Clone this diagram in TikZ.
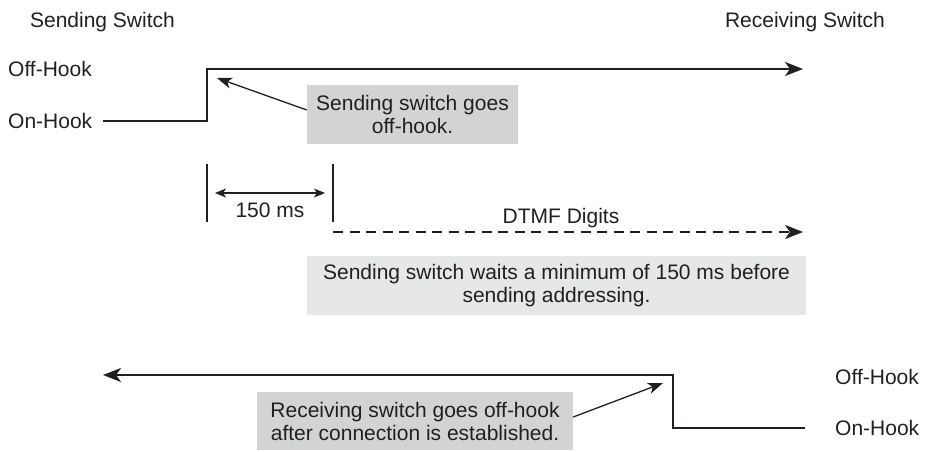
\documentclass[tikz,border=0pt]{standalone}
\usepackage{fontspec}
\setmainfont{Liberation Sans}
\usetikzlibrary{arrows.meta}
\definecolor{ink}{HTML}{231F20}
\definecolor{boxgray}{HTML}{D1D3D4}
\definecolor{lightgray}{HTML}{E6E7E8}
\begin{document}
\begin{tikzpicture}[x=1pt,y=-1pt,
  lbl/.style={inner sep=0pt, font=\fontsize{21}{23}\selectfont, text=ink},
  note/.style={lbl, align=center, minimum width=#1, minimum height=59pt},
  sig/.style={line width=2pt, draw=ink},
  bigtip/.style={-{Stealth[length=18pt,width=14pt,inset=5pt]}},
  pointer/.style={line width=1.3pt, draw=ink, -{Stealth[length=15pt,width=11pt,inset=4pt]}},
  tick/.style={line width=1.3pt, draw=ink},
  span/.style={line width=1.1pt, draw=ink, {Stealth[length=11pt,width=9pt,inset=3pt]}-{Stealth[length=11pt,width=9pt,inset=3pt]}},
  dashline/.style={sig, dash pattern=on 10pt off 6.5pt}
]
\useasboundingbox (0,0) rectangle (925,451);

% headers
\node[lbl, anchor=base] (hsend) at (102.5,27) {Sending Switch};
\node[lbl, anchor=base] (hrecv) at (805,27) {Receiving Switch};

% left state labels
\node[lbl, anchor=west] (offL) at (8,69) {Off-Hook};
\node[lbl, anchor=west] (onL) at (8,121) {On-Hook};

% sending switch signal
\coordinate (s1) at (103,121);
\coordinate (s2) at (207,121);
\coordinate (s3) at (207,69);
\coordinate (s4) at (803,69);
\draw[sig, bigtip] (s1) -- (s2) -- (s3) -- (s4);

% callout 1
\node[note=211pt, fill=boxgray] (box1) at (412.5,114.5) {Sending switch goes\\off-hook.};
\coordinate (t1) at (217,78);
\draw[pointer] ([yshift=4.5pt]box1.west) -- (t1);

% 150 ms span
\coordinate (v1a) at (207,164);
\coordinate (v1b) at (207,222);
\coordinate (v2a) at (333,164);
\coordinate (v2b) at (333,222);
\draw[tick] (v1a) -- (v1b);
\draw[tick] (v2a) -- (v2b);
\coordinate (m1) at (215,193);
\coordinate (m2) at (325,193);
\draw[span] (m1) -- (m2);
\node[lbl, anchor=base] (ms) at (270,217) {150 ms};

% DTMF digits
\node[lbl, anchor=base] (dtmf) at (561,223) {DTMF Digits};
\coordinate (d1) at (333,232);
\coordinate (d2) at (803,232);
\draw[dashline, bigtip] (d1) -- (d2);

\node[note=499pt, fill=lightgray] (box2) at (556.5,285.5) {Sending switch waits a minimum of 150 ms before\\sending addressing.};

% receiving switch signal
\node[lbl, anchor=west] (offR) at (835,377) {Off-Hook};
\node[lbl, anchor=west] (onR) at (835,428) {On-Hook};
\coordinate (r1) at (805,428);
\coordinate (r2) at (673,428);
\coordinate (r3) at (673,375);
\coordinate (r4) at (103,375);
\draw[sig, bigtip] (r1) -- (r2) -- (r3) -- (r4);

% callout 2
\node[note=316pt, minimum height=58pt, fill=boxgray] (box3) at (415,421) {Receiving switch goes off-hook\\after connection is established.};
\coordinate (t2) at (663,383);
\draw[pointer] ([yshift=4pt]box3.east) -- (t2);
\end{tikzpicture}
\end{document}
